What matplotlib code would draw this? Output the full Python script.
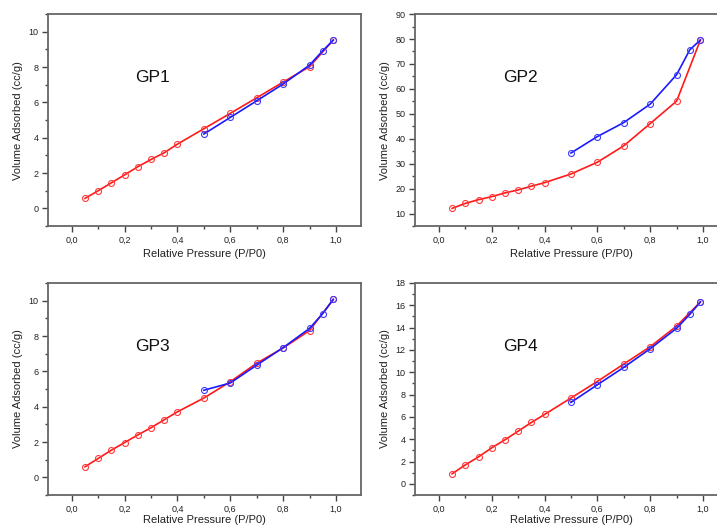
import matplotlib
matplotlib.use("Agg")
import matplotlib.pyplot as plt
from matplotlib.ticker import MultipleLocator, FuncFormatter

plt.rcParams['font.family'] = ['Liberation Sans', 'DejaVu Sans']

# adsorption (red) pressure points
x_ads = [0.05, 0.10, 0.15, 0.20, 0.25, 0.30, 0.35, 0.40, 0.50, 0.60, 0.70, 0.80, 0.90, 0.99]
# desorption (blue) pressure points
x_des = [0.50, 0.60, 0.70, 0.80, 0.90, 0.95, 0.99]

gp1_ads = [0.57, 1.00, 1.45, 1.90, 2.36, 2.77, 3.15, 3.64, 4.51, 5.38, 6.26, 7.15, 8.02, 9.53]
gp1_des = [4.21, 5.15, 6.09, 7.04, 8.11, 8.92, 9.53]

gp2_ads = [12.1, 14.1, 15.6, 16.8, 18.3, 19.5, 21.0, 22.4, 25.9, 30.6, 37.2, 46.1, 55.1, 79.6]
gp2_des = [34.3, 40.9, 46.5, 53.9, 65.7, 75.7, 79.6]

gp3_ads = [0.60, 1.07, 1.54, 1.97, 2.40, 2.81, 3.26, 3.71, 4.49, 5.41, 6.46, 7.32, 8.31, 10.07]
gp3_des = [4.93, 5.34, 6.35, 7.34, 8.43, 9.27, 10.07]

gp4_ads = [0.90, 1.70, 2.42, 3.23, 3.95, 4.72, 5.50, 6.22, 7.69, 9.18, 10.74, 12.29, 14.14, 16.30]
gp4_des = [7.30, 8.88, 10.44, 12.11, 13.94, 15.19, 16.30]

names = ['GP1', 'GP2', 'GP3', 'GP4']
ads = [gp1_ads, gp2_ads, gp3_ads, gp4_ads]
des = [gp1_des, gp2_des, gp3_des, gp4_des]
ylims = [(-1, 11), (5, 90), (-1, 11), (-1, 18)]
ymajor = [2, 10, 2, 2]

fig = plt.figure(figsize=(7.17, 5.27), dpi=100)
# axes boxes [left, bottom, width, height] in figure fractions
boxes = [[0.067, 0.571, 0.4365, 0.4023],
         [0.579, 0.571, 0.4365, 0.4023],
         [0.067, 0.0607, 0.4365, 0.4023],
         [0.579, 0.0607, 0.4365, 0.4023]]

comma = FuncFormatter(lambda v, p: ('%.1f' % v).replace('.', ','))

for i in range(4):
    ax = fig.add_axes(boxes[i])
    ax.plot(x_ads, ads[i], '-o', color='#ff1a1a', lw=1.2, ms=4.3,
            mfc='none', mec='#ff3a3a', mew=0.8)
    ax.plot(x_des, des[i], '-o', color='#1a1aff', lw=1.2, ms=4.3,
            mfc='none', mec='#3a3aff', mew=0.8)
    ax.set_xlim(-0.09, 1.095)
    ax.set_ylim(ylims[i])
    ax.xaxis.set_major_locator(MultipleLocator(0.2))
    ax.xaxis.set_minor_locator(MultipleLocator(0.1))
    ax.xaxis.set_major_formatter(comma)
    ax.yaxis.set_major_locator(MultipleLocator(ymajor[i]))
    ax.yaxis.set_minor_locator(MultipleLocator(ymajor[i] / 2))
    ax.tick_params(which='both', direction='out', colors='#444444',
                   labelsize=6.5, labelcolor='#222222', width=1.0)
    ax.tick_params(which='major', length=4, pad=3)
    ax.tick_params(which='minor', length=2)
    for s in ax.spines.values():
        s.set_color('#666666')
        s.set_linewidth(1.3)
    pad = 3 if i < 2 else 1
    ax.set_xlabel('Relative Pressure (P/P0)', fontsize=8, color='#222222', labelpad=pad)
    ax.set_ylabel('Volume Adsorbed (cc/g)', fontsize=8, color='#222222', labelpad=4)
    ax.text(0.335, 0.70, names[i], transform=ax.transAxes, fontsize=12.5,
            ha='center', va='center', color='#111111')

fig.savefig('out.png', dpi=100)
